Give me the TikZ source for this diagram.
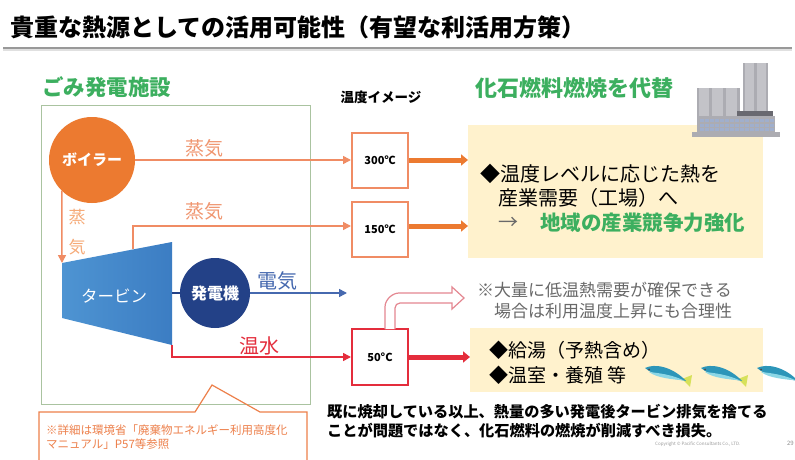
\documentclass[tikz,border=0pt]{standalone}
\usepackage{fontspec}
\setmainfont{Noto Sans CJK JP}
\usetikzlibrary{arrows.meta,calc}

\definecolor{boilerOr}{RGB}{236,122,48}
\definecolor{steamLn}{RGB}{240,140,100}
\definecolor{steamTx}{RGB}{240,150,112}
\definecolor{steamTxLt}{RGB}{246,170,120}
\definecolor{turbBl}{RGB}{78,148,210}
\definecolor{turbBlDk}{RGB}{60,125,195}
\definecolor{genNavy}{RGB}{35,65,135}
\definecolor{elecBl}{RGB}{70,105,175}
\definecolor{hotRed}{RGB}{228,45,60}
\definecolor{headGr}{RGB}{60,175,95}
\definecolor{paleYl}{RGB}{255,242,205}
\definecolor{noteGr}{RGB}{105,105,105}
\definecolor{plantBox}{RGB}{170,195,160}
\definecolor{calloutOr}{RGB}{237,128,75}
\definecolor{hollowLn}{RGB}{228,135,145}
\definecolor{factGr}{RGB}{172,172,178}
\definecolor{factLt}{RGB}{195,195,200}
\definecolor{factDk}{RGB}{105,105,112}
\definecolor{factWin}{RGB}{160,175,205}
\definecolor{fishTeal}{RGB}{45,150,185}
\definecolor{fishLt}{RGB}{140,215,230}
\definecolor{fishTail}{RGB}{215,225,90}

\newcommand{\fsz}[1]{\fontsize{#1}{#1}\selectfont}

\tikzset{
  txt/.style={inner sep=0, anchor=west},
  tbox/.style={draw, line width=2, minimum width=56, minimum height=55,
    fill=white, inner sep=0, font=\fsz{11}\bfseries},
  thinarr/.style={line width=1.5, -{Triangle[length=8,width=8]}},
  thickarr/.style={line width=5, -{Triangle[length=7,width=11]}},
  steamlbl/.style={inner sep=0, text=steamTx, font=\fsz{19}},
  fish/.pic={
    \fill[fishTail] (37,11) -- (47,7) -- (45,19) -- cycle;
    \fill[fishTeal] (0,0) .. controls (10,-5) and (28,-1) .. (41,13)
      .. controls (28,10) and (10,9) .. (0,0);
    \fill[fishLt] (4,4) .. controls (14,5) and (28,7) .. (39,12.5)
      .. controls (26,11) and (12,10) .. (4,4);
    \fill[black!70] (4,1.5) circle (1);
  }
}

\begin{document}
\begin{tikzpicture}[x=1pt,y=-1pt]
\useasboundingbox (0,0) rectangle (795,460);
\fill[white] (0,0) rectangle (795,460);

% heading and rule
\node[txt, font=\fsz{24}\bfseries] (title) at (10,27)
  {貴重な熱源としての活用可能性（有望な利活用方策）};
\draw[black!40, line width=1.2] (3,48) -- (792,48);
\draw[black!12, line width=1.5] (3,50) -- (792,50);

% waste power plant frame
\draw[plantBox, line width=0.8] (41,105) rectangle (310,404);
\node[txt, text=headGr, font=\fsz{21.5}\bfseries] (plant) at (42,87) {ごみ発電施設};

% boiler
\node[circle, minimum size=86, inner sep=0, fill=boilerOr, text=white,
  font=\fsz{15}\bfseries] (boiler) at (92,160) {ボイラー};

% turbine
\coordinate (tTL) at (62,263);
\coordinate (tTR) at (172,242);
\coordinate (tBR) at (172,345);
\coordinate (tBL) at (62,318);
\coordinate (tTop) at ($(tTL)!0.645!(tTR)$);
\coordinate (tShaft) at (172,293);
\shade[left color=turbBl, right color=turbBlDk] (tTL) -- (tTR) -- (tBR) -- (tBL) -- cycle;
\node[inner sep=0, text=white, font=\fsz{16.5}] (turbine) at (114,296) {タービン};

% generator
\node[circle, minimum size=70, inner sep=0, fill=genNavy, text=white,
  font=\fsz{16}\bfseries] (gen) at (215,293) {発電機};
\draw[genNavy, line width=2.5] (tShaft) -- (gen.west);

% temperature levels
\node[inner sep=0, font=\fsz{13.5}\bfseries] (tlabel) at (381,97) {温度イメージ};
\node[tbox, draw=steamLn] (t300) at (380,160) {300℃};
\node[tbox, draw=steamLn] (t150) at (380,229) {150℃};
\node[tbox, draw=hotRed, minimum height=56] (t50) at (380,357) {50°C};
\coordinate (t150in) at ([yshift=3pt]t150.west);
\coordinate (t150out) at ([yshift=3pt]t150.east);

% steam, electricity and hot water lines
\draw[steamLn, thinarr] (boiler.east) -- (t300.west);
\node[steamlbl] (s1) at (204,148) {蒸気};
\draw[steamLn, thinarr] (boiler.226) -- (tTL);
\node[inner sep=0, text=steamTxLt, font=\fontsize{17}{30}\selectfont, align=center]
  (s0) at (77,232) {蒸\\気};
\draw[steamLn, thinarr] (tTop) |- (t150in);
\node[steamlbl] (s2) at (204,211) {蒸気};

\coordinate (elecEnd) at (347,293);
\draw[elecBl, thinarr] (gen.east) -- (elecEnd);
\node[inner sep=0, text=elecBl, font=\fsz{20}] (elec) at (277,281) {電気};

\draw[hotRed, thinarr] (tBR) |- (t50.west);
\node[inner sep=0, text=hotRed, font=\fsz{20}] (hw) at (259,346) {温水};

% uses of the heat
\node[txt, text=headGr, font=\fsz{22}\bfseries] (fossil) at (475,88) {化石燃料燃焼を代替};
\node[anchor=north west, fill=paleYl, minimum width=295, minimum height=133,
  inner sep=0] (upbox) at (468,125) {};
\node[anchor=north west, fill=paleYl, minimum width=293, minimum height=64,
  inner sep=0] (lowbox) at (470,328) {};

\draw[boilerOr, thickarr] (t300.east) -- (upbox.west |- t300.east);
\draw[boilerOr, thickarr] (t150out) -- (upbox.west |- t150out);
\draw[hotRed, thickarr] (t50.east) -- (lowbox.west |- t50.east);

\node[txt, font=\fsz{20}] (u1) at (480,174) {◆温度レベルに応じた熱を};
\node[txt, font=\fsz{20}] (u2) at (498,198) {産業需要（工場）へ};
\node[txt, text=noteGr, font=\fsz{20}] (u3a) at (498,223) {→};
\node[txt, text=headGr, font=\fsz{20.5}\bfseries] (u3b) at (540,223) {地域の産業競争力強化};

\node[txt, text=noteGr, font=\fsz{17}] (n1) at (477,290) {※大量に低温熱需要が確保できる};
\node[txt, text=noteGr, font=\fsz{17}] (n2) at (494,311) {場合は利用温度上昇にも合理性};

\node[txt, font=\fsz{19}] (l1) at (489,350) {◆給湯（予熱含め）};
\node[txt, font=\fsz{19}] (l2) at (489,375) {◆温室・養殖 等};

% rising-temperature hint arrow
\draw[hollowLn, line width=1.2, fill=white]
  (385,329) -- (385,307) .. controls (385,299.3) and (392.7,293) .. (399,293)
  -- (452,293) -- (452,287) -- (464,298) -- (452,309) -- (452,303)
  -- (400,303) .. controls (397.2,303) and (395,305.2) .. (395,308) -- (395,329);

% factory icon
\fill[factGr] (743,63) rectangle (768,135);
\fill[factLt] (745,63) rectangle (754,135);
\fill[factLt] (757,63) rectangle (766,135);
\fill[factGr] (697,88) rectangle (740,135);
\fill[factLt] (699,88) rectangle (709,135);
\fill[factLt] (712,88) rectangle (723,135);
\fill[factLt] (726,88) rectangle (737,135);
\fill[factDk] (737,111) rectangle (773,116);
\fill[factGr] (697,116) rectangle (775,132);
\foreach \r in {119,124,128}
  \foreach \c in {700,705,...,770}
    \fill[factWin] (\c,\r) rectangle ++(3.5,2.8);
\fill[factGr] (692,132) rectangle (780,137);

% fish
\pic at (645,368) {fish};
\pic at (701,368) {fish};
\pic at (757,368) {fish};

% closing remark
\node[txt, font=\fsz{15.2}\bfseries] (b1) at (327,412)
  {既に焼却している以上、熱量の多い発電後タービン排気を捨てる};
\node[txt, font=\fsz{15.2}\bfseries] (b2) at (327,431)
  {ことが問題ではなく、化石燃料の燃焼が削減すべき損失。};

% reference callout
\draw[calloutOr, line width=1.2] (39,462) -- (39,412) -- (195,412) -- (212,385)
  -- (260,412) -- (307,412) -- (307,462);
\node[txt, text=calloutOr, font=\fsz{11.5}] (c1) at (46,430)
  {※詳細は環境省「廃棄物エネルギー利用高度化};
\node[txt, text=calloutOr, font=\fsz{11.5}] (c2) at (46,444)
  {マニュアル」P57等参照};

% footer
\node[txt, text=black!40, font=\fsz{4.5}] (copy) at (655,444)
  {Copyright © Pacific Consultants Co., LTD.};
\node[inner sep=0, anchor=east, text=black!45, font=\fsz{6}] (page) at (794,443) {29};
\end{tikzpicture}
\end{document}
